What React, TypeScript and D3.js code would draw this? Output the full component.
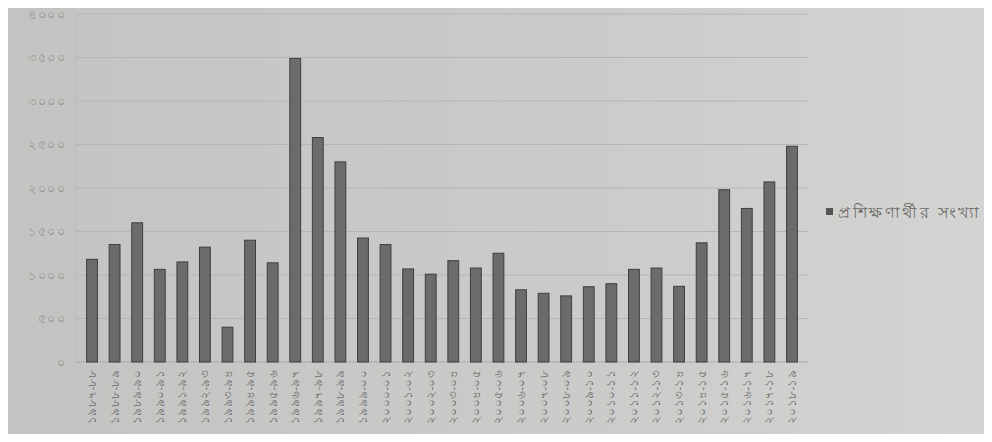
import React, { useEffect, useRef } from 'react';
import * as d3 from 'd3';

// fiscal years (bengali digits)
const years = [
  '১৯৮৭-৮৮', '১৯৮৮-৮৯', '১৯৮৯-৯০', '১৯৯০-৯১', '১৯৯১-৯২', '১৯৯২-৯৩', '১৯৯৩-৯৪', '১৯৯৪-৯৫',
  '১৯৯৫-৯৬', '১৯৯৬-৯৭', '১৯৯৭-৯৮', '১৯৯৮-৯৯', '১৯৯৯-০০', '২০০০-০১', '২০০১-০২', '২০০২-০৩',
  '২০০৩-০৪', '২০০৪-০৫', '২০০৫-০৬', '২০০৬-০৭', '২০০৭-০৮', '২০০৮-০৯', '২০০৯-১০', '২০১০-১১',
  '২০১১-১২', '২০১২-১৩', '২০১৩-১৪', '২০১৪-১৫', '২০১৫-১৬', '২০১৬-১৭', '২০১৭-১৮', '২০১৮-১৯',
];

const trainees = [
  1180, 1350, 1600, 1065, 1150, 1320, 400, 1400,
  1140, 3490, 2580, 2300, 1425, 1350, 1070, 1010,
  1165, 1080, 1250, 830, 790, 760, 865, 900,
  1065, 1080, 870, 1370, 1980, 1765, 2070, 2480,
];

const yTicks = [0, 500, 1000, 1500, 2000, 2500, 3000, 3500, 4000];
const seriesName = 'প্রশিক্ষণার্থীর সংখ্যা';

const bn = (n: number) => String(n).replace(/\d/g, (c) => '০১২৩৪৫৬৭৮৯'[+c]);

const W = 992;
const H = 442;

const App = () => {
  const ref = useRef<SVGSVGElement>(null);

  useEffect(() => {
    const svg = d3.select(ref.current);
    svg.selectAll('*').remove();

    const left = 76;
    const right = 808;
    const top = 14;
    const bottom = 362;

    // photo-like background, a bit lighter on the right
    const grad = svg.append('defs').append('linearGradient').attr('id', 'bg').attr('x1', 0).attr('x2', 1).attr('y1', 0).attr('y2', 0);
    grad.append('stop').attr('offset', '0%').attr('stop-color', '#c3c3c1');
    grad.append('stop').attr('offset', '60%').attr('stop-color', '#cbcbc9');
    grad.append('stop').attr('offset', '100%').attr('stop-color', '#d4d4d2');
    svg.append('rect').attr('width', W).attr('height', H).attr('fill', 'url(#bg)');

    const x = d3.scaleBand().domain(years).range([left, right]).paddingInner(0.52).paddingOuter(0.47);
    const y = d3.scaleLinear().domain([0, 4000]).range([bottom, top]);

    // gridlines
    svg
      .append('g')
      .selectAll('line')
      .data(yTicks.slice(1))
      .enter()
      .append('line')
      .attr('x1', left)
      .attr('x2', right)
      .attr('y1', (d) => y(d))
      .attr('y2', (d) => y(d))
      .attr('stroke', '#b6b6b4')
      .attr('stroke-width', 1);

    // axes lines
    svg.append('line').attr('x1', left).attr('x2', left).attr('y1', top).attr('y2', bottom).attr('stroke', '#b8b8b6');
    svg.append('line').attr('x1', left).attr('x2', right).attr('y1', bottom).attr('y2', bottom).attr('stroke', '#a9a9a7');

    // y tick labels
    svg
      .append('g')
      .selectAll('text')
      .data(yTicks)
      .enter()
      .append('text')
      .attr('x', left - 10)
      .attr('y', (d) => y(d))
      .attr('dy', '0.35em')
      .attr('text-anchor', 'end')
      .style('font-family', '"Noto Sans", sans-serif')
      .style('font-size', '13px')
      .style('letter-spacing', '1.5px')
      .style('fill', '#9a9a98')
      .text((d) => bn(d));

    // bars
    svg
      .append('g')
      .selectAll('rect')
      .data(trainees)
      .enter()
      .append('rect')
      .attr('x', (d, i) => x(years[i]) as number)
      .attr('y', (d) => y(d))
      .attr('width', x.bandwidth())
      .attr('height', (d) => bottom - y(d))
      .attr('fill', '#6b6b69')
      .attr('stroke', '#3f3f3e')
      .attr('stroke-width', 1);

    // x labels, rotated
    svg
      .append('g')
      .selectAll('text')
      .data(years)
      .enter()
      .append('text')
      .attr('transform', (d) => `translate(${(x(d) as number) + x.bandwidth() / 2 + 4}, ${bottom + 8}) rotate(-90)`)
      .attr('text-anchor', 'end')
      .style('font-family', '"Noto Sans", sans-serif')
      .style('font-size', '11.5px')
      .style('letter-spacing', '0.3px')
      .style('fill', '#6f6f6d')
      .text((d) => d);

    // legend
    svg.append('rect').attr('x', 826).attr('y', 208).attr('width', 7).attr('height', 7).attr('fill', '#555553');
    svg
      .append('text')
      .attr('x', 838)
      .attr('y', 212)
      .attr('dy', '0.35em')
      .style('font-family', '"Noto Sans", sans-serif')
      .style('font-size', '16px')
      .style('letter-spacing', '2.5px')
      .style('fill', '#6a6a68')
      .text(seriesName);
  }, []);

  return (
    <div style={{ margin: -8, width: W, height: H, overflow: 'hidden' }}>
      <svg ref={ref} width={W} height={H} style={{ display: 'block' }} />
    </div>
  );
};

export default App;
